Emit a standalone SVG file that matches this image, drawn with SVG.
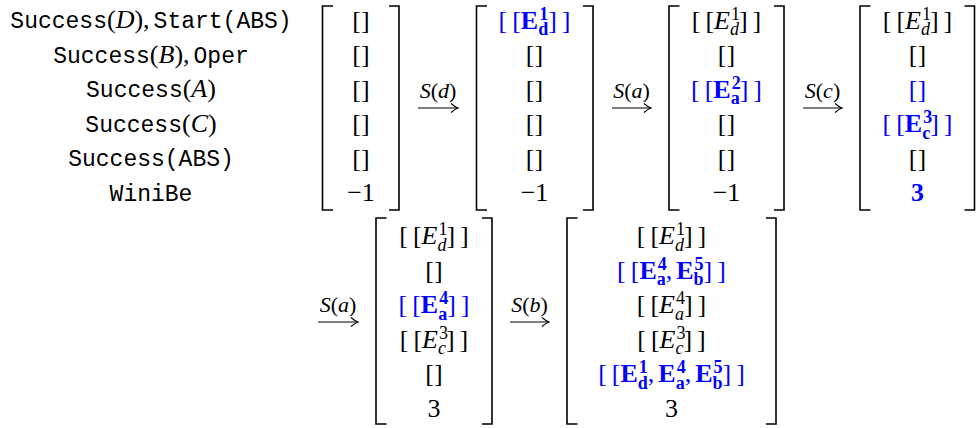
<svg xmlns="http://www.w3.org/2000/svg" width="976" height="428" viewBox="0 0 976 428">
<style>
text{fill:#000}
.m{font-family:"Liberation Serif","Times New Roman",Tinos,"DejaVu Serif","Noto Serif",serif;font-size:26px;text-anchor:middle}
.it{font-style:italic}
.bf{font-weight:bold}
.sc{font-size:18px}
.b{fill:#0000ff}
.tt{font-family:"Liberation Mono","Courier New",Cousine,"DejaVu Sans Mono",monospace;font-size:23px}
.lab{font-family:"Liberation Serif","Times New Roman",Tinos,"DejaVu Serif","Noto Serif",serif;font-size:26px;text-anchor:middle}
.al{font-family:"Liberation Serif","Times New Roman",Tinos,"DejaVu Serif","Noto Serif",serif;font-size:22px;text-anchor:middle}
.br{fill:none;stroke:#000;stroke-width:1.6}
.ar{fill:none;stroke:#000;stroke-width:1.1}
</style>
<defs>
<marker id="hd" viewBox="-8 -6 10 12" refX="0" refY="0" markerWidth="10" markerHeight="12" markerUnits="userSpaceOnUse" orient="auto">
<path d="M-7,-4.5 Q-3,-1 0,0 Q-3,1 -7,4.5" fill="none" stroke="#000" stroke-width="1.1"/>
</marker>
</defs>

<g id="labels">
<text class="lab" x="151" y="28"><tspan class="tt">Success</tspan><tspan>(</tspan><tspan class="it">D</tspan><tspan>),</tspan><tspan class="tt" dx="4">Start(ABS)</tspan></text>
<text class="lab" x="151" y="62.5"><tspan class="tt">Success</tspan><tspan>(</tspan><tspan class="it">B</tspan><tspan>),</tspan><tspan class="tt" dx="4">Oper</tspan></text>
<text class="lab" x="151" y="97"><tspan class="tt">Success</tspan><tspan>(</tspan><tspan class="it">A</tspan><tspan>)</tspan></text>
<text class="lab" x="151" y="131.5"><tspan class="tt">Success</tspan><tspan>(</tspan><tspan class="it">C</tspan><tspan>)</tspan></text>
<text class="lab" x="151" y="166"><tspan class="tt">Success(ABS)</tspan></text>
<text class="lab" x="151" y="200.5"><tspan class="tt">WiniBe</tspan></text>
</g>

<g id="m1">
<path class="br" d="M333,6 H322.5 V210 H333 M389,6 H399 V210 H389"/>
<text class="m" x="361" y="28.5">[]</text>
<text class="m" x="361" y="63">[]</text>
<text class="m" x="361" y="97.5">[]</text>
<text class="m" x="361" y="132">[]</text>
<text class="m" x="361" y="166.5">[]</text>
<text class="m" x="361" y="201">−1</text>
</g>

<g id="m2">
<path class="br" d="M487,6 H476.5 V210 H487 M583,6 H593 V210 H583"/>
<text class="m b" x="534.5" y="28.5"><tspan>[</tspan><tspan dx="5">[</tspan><tspan class="bf">E</tspan><tspan class="sc bf" dx="1" dy="-9">1</tspan><tspan class="sc bf" dx="-10" dy="15.5">d</tspan><tspan dy="-6.5">]</tspan><tspan dx="5">]</tspan></text>
<text class="m" x="534.5" y="63">[]</text>
<text class="m" x="534.5" y="97.5">[]</text>
<text class="m" x="534.5" y="132">[]</text>
<text class="m" x="534.5" y="166.5">[]</text>
<text class="m" x="534.5" y="201">−1</text>
</g>

<g id="m3">
<path class="br" d="M679.5,6 H669 V210 H679.5 M774,6 H784 V210 H774"/>
<text class="m" x="726.5" y="28.5"><tspan>[</tspan><tspan dx="5">[</tspan><tspan class="it">E</tspan><tspan class="sc" dx="1" dy="-9">1</tspan><tspan class="sc it" dx="-10" dy="15.5">d</tspan><tspan dy="-6.5">]</tspan><tspan dx="5">]</tspan></text>
<text class="m" x="726.5" y="63">[]</text>
<text class="m b" x="726.5" y="97.5"><tspan>[</tspan><tspan dx="5">[</tspan><tspan class="bf">E</tspan><tspan class="sc bf" dx="1" dy="-9">2</tspan><tspan class="sc bf" dx="-10" dy="15.5">a</tspan><tspan dy="-6.5">]</tspan><tspan dx="5">]</tspan></text>
<text class="m" x="726.5" y="132">[]</text>
<text class="m" x="726.5" y="166.5">[]</text>
<text class="m" x="726.5" y="201">−1</text>
</g>

<g id="m4">
<path class="br" d="M870.5,6 H860 V210 H870.5 M964.5,6 H974.5 V210 H964.5"/>
<text class="m" x="917.5" y="28.5"><tspan>[</tspan><tspan dx="5">[</tspan><tspan class="it">E</tspan><tspan class="sc" dx="1" dy="-9">1</tspan><tspan class="sc it" dx="-10" dy="15.5">d</tspan><tspan dy="-6.5">]</tspan><tspan dx="5">]</tspan></text>
<text class="m" x="917.5" y="63">[]</text>
<text class="m b" x="917.5" y="97.5">[]</text>
<text class="m b" x="917.5" y="132"><tspan>[</tspan><tspan dx="5">[</tspan><tspan class="bf">E</tspan><tspan class="sc bf" dx="1" dy="-9">3</tspan><tspan class="sc bf" dx="-10" dy="15.5">c</tspan><tspan dy="-6.5">]</tspan><tspan dx="5">]</tspan></text>
<text class="m" x="917.5" y="166.5">[]</text>
<text class="m b bf" x="917.5" y="201">3</text>
</g>

<g id="m5">
<path class="br" d="M386.5,218 H376 V424 H386.5 M482,218 H492 V424 H482"/>
<text class="m" x="434" y="244"><tspan>[</tspan><tspan dx="5">[</tspan><tspan class="it">E</tspan><tspan class="sc" dx="1" dy="-9">1</tspan><tspan class="sc it" dx="-10" dy="15.5">d</tspan><tspan dy="-6.5">]</tspan><tspan dx="5">]</tspan></text>
<text class="m" x="434" y="278.5">[]</text>
<text class="m b" x="434" y="313"><tspan>[</tspan><tspan dx="5">[</tspan><tspan class="bf">E</tspan><tspan class="sc bf" dx="1" dy="-9">4</tspan><tspan class="sc bf" dx="-10" dy="15.5">a</tspan><tspan dy="-6.5">]</tspan><tspan dx="5">]</tspan></text>
<text class="m" x="434" y="347.5"><tspan>[</tspan><tspan dx="5">[</tspan><tspan class="it">E</tspan><tspan class="sc" dx="1" dy="-9">3</tspan><tspan class="sc it" dx="-10" dy="15.5">c</tspan><tspan dy="-6.5">]</tspan><tspan dx="5">]</tspan></text>
<text class="m" x="434" y="382">[]</text>
<text class="m" x="434" y="416.5">3</text>
</g>

<g id="m6">
<path class="br" d="M577.5,218 H567 V424 H577.5 M766,218 H776 V424 H766"/>
<text class="m" x="671.5" y="244"><tspan>[</tspan><tspan dx="5">[</tspan><tspan class="it">E</tspan><tspan class="sc" dx="1" dy="-9">1</tspan><tspan class="sc it" dx="-10" dy="15.5">d</tspan><tspan dy="-6.5">]</tspan><tspan dx="5">]</tspan></text>
<text class="m b" x="671.5" y="278.5"><tspan>[</tspan><tspan dx="5">[</tspan><tspan class="bf">E</tspan><tspan class="sc bf" dx="1" dy="-9">4</tspan><tspan class="sc bf" dx="-10" dy="15.5">a</tspan><tspan dy="-6.5">,</tspan><tspan class="bf" dx="4">E</tspan><tspan class="sc bf" dx="1" dy="-9">5</tspan><tspan class="sc bf" dx="-10" dy="15.5">b</tspan><tspan dy="-6.5">]</tspan><tspan dx="5">]</tspan></text>
<text class="m" x="671.5" y="313"><tspan>[</tspan><tspan dx="5">[</tspan><tspan class="it">E</tspan><tspan class="sc" dx="1" dy="-9">4</tspan><tspan class="sc it" dx="-10" dy="15.5">a</tspan><tspan dy="-6.5">]</tspan><tspan dx="5">]</tspan></text>
<text class="m" x="671.5" y="347.5"><tspan>[</tspan><tspan dx="5">[</tspan><tspan class="it">E</tspan><tspan class="sc" dx="1" dy="-9">3</tspan><tspan class="sc it" dx="-10" dy="15.5">c</tspan><tspan dy="-6.5">]</tspan><tspan dx="5">]</tspan></text>
<text class="m b" x="671.5" y="382"><tspan>[</tspan><tspan dx="5">[</tspan><tspan class="bf">E</tspan><tspan class="sc bf" dx="1" dy="-9">1</tspan><tspan class="sc bf" dx="-10" dy="15.5">d</tspan><tspan dy="-6.5">,</tspan><tspan class="bf" dx="4">E</tspan><tspan class="sc bf" dx="1" dy="-9">4</tspan><tspan class="sc bf" dx="-10" dy="15.5">a</tspan><tspan dy="-6.5">,</tspan><tspan class="bf" dx="4">E</tspan><tspan class="sc bf" dx="1" dy="-9">5</tspan><tspan class="sc bf" dx="-10" dy="15.5">b</tspan><tspan dy="-6.5">]</tspan><tspan dx="5">]</tspan></text>
<text class="m" x="671.5" y="416.5">3</text>
</g>

<g id="connectors">
<line class="ar" x1="418" y1="108" x2="458" y2="108" marker-end="url(#hd)"/>
<text class="al" x="438" y="98"><tspan class="it">S</tspan>(<tspan class="it">d</tspan>)</text>
<line class="ar" x1="612" y1="108" x2="651" y2="108" marker-end="url(#hd)"/>
<text class="al" x="631.5" y="98"><tspan class="it">S</tspan>(<tspan class="it">a</tspan>)</text>
<line class="ar" x1="803" y1="108" x2="842" y2="108" marker-end="url(#hd)"/>
<text class="al" x="822.5" y="98"><tspan class="it">S</tspan>(<tspan class="it">c</tspan>)</text>
<line class="ar" x1="318" y1="322" x2="358" y2="322" marker-end="url(#hd)"/>
<text class="al" x="338" y="312"><tspan class="it">S</tspan>(<tspan class="it">a</tspan>)</text>
<line class="ar" x1="510" y1="322" x2="549" y2="322" marker-end="url(#hd)"/>
<text class="al" x="529.5" y="312"><tspan class="it">S</tspan>(<tspan class="it">b</tspan>)</text>
</g>
</svg>
